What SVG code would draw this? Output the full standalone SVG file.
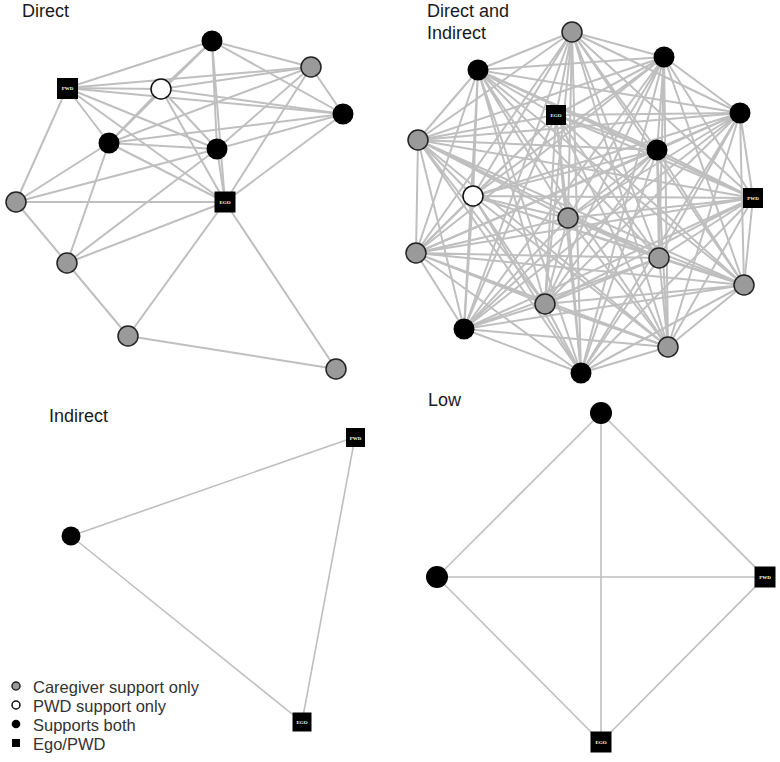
<svg xmlns="http://www.w3.org/2000/svg" width="780" height="762" viewBox="0 0 780 762">
<style>
.bg{fill:#fff}
.e{stroke:#bfbfbf;stroke-width:2;fill:none;stroke-linecap:round}
.e2{stroke:#bfbfbf;stroke-width:1.6;fill:none}
.gray{fill:#9a9a9a;stroke:#222;stroke-width:1.5}
.white{fill:#fff;stroke:#111;stroke-width:1.5}
.black{fill:#000}
.sq{fill:#000}
.sqt{fill:#fff;font-family:"Liberation Serif",serif;font-size:5px;font-weight:bold;text-anchor:middle}
.title{font-family:"Liberation Sans",Arial,sans-serif;font-size:18px;fill:#1a1a1a}
.leg{font-family:"Liberation Sans",Arial,sans-serif;font-size:16.5px;fill:#333}
</style>
<rect class="bg" x="0" y="0" width="780" height="762"/>

<!-- Titles -->
<text class="title" x="22" y="17">Direct</text>
<text class="title" x="427" y="17">Direct and</text>
<text class="title" x="427" y="39">Indirect</text>
<text class="title" x="49" y="422">Indirect</text>
<text class="title" x="428" y="406">Low</text>

<!-- Connectors -->
<g id="connectors">
  <!-- Direct panel -->
  <g id="edges-direct" class="e">
    <line x1="67" y1="88" x2="212" y2="41"/>
    <line x1="67" y1="88" x2="311" y2="67"/>
    <line x1="67" y1="88" x2="161" y2="89"/>
    <line x1="67" y1="88" x2="343" y2="114"/>
    <line x1="67" y1="88" x2="109" y2="143"/>
    <line x1="67" y1="88" x2="217" y2="149"/>
    <line x1="67" y1="88" x2="225" y2="202"/>
    <line x1="67" y1="88" x2="16" y2="202"/>
    <line x1="161" y1="89" x2="212" y2="41"/>
    <line x1="161" y1="89" x2="311" y2="67"/>
    <line x1="161" y1="89" x2="343" y2="114"/>
    <line x1="161" y1="89" x2="109" y2="143"/>
    <line x1="161" y1="89" x2="217" y2="149"/>
    <line x1="161" y1="89" x2="225" y2="202"/>
    <line x1="212" y1="41" x2="311" y2="67"/>
    <line x1="212" y1="41" x2="343" y2="114"/>
    <line x1="212" y1="41" x2="217" y2="149"/>
    <line x1="212" y1="41" x2="225" y2="202"/>
    <line x1="212" y1="41" x2="109" y2="143"/>
    <line x1="311" y1="67" x2="343" y2="114"/>
    <line x1="311" y1="67" x2="109" y2="143"/>
    <line x1="311" y1="67" x2="217" y2="149"/>
    <line x1="311" y1="67" x2="225" y2="202"/>
    <line x1="343" y1="114" x2="109" y2="143"/>
    <line x1="343" y1="114" x2="217" y2="149"/>
    <line x1="343" y1="114" x2="225" y2="202"/>
    <line x1="109" y1="143" x2="217" y2="149"/>
    <line x1="109" y1="143" x2="225" y2="202"/>
    <line x1="109" y1="143" x2="16" y2="202"/>
    <line x1="109" y1="143" x2="67" y2="263"/>
    <line x1="217" y1="149" x2="225" y2="202"/>
    <line x1="217" y1="149" x2="16" y2="202"/>
    <line x1="217" y1="149" x2="67" y2="263"/>
    <line x1="225" y1="202" x2="16" y2="202"/>
    <line x1="225" y1="202" x2="67" y2="263"/>
    <line x1="225" y1="202" x2="128" y2="336"/>
    <line x1="225" y1="202" x2="336" y2="369"/>
    <line x1="16" y1="202" x2="67" y2="263"/>
    <line x1="67" y1="263" x2="128" y2="336"/>
    <line x1="128" y1="336" x2="336" y2="369"/>
  </g>
  <!-- Direct and Indirect panel (all pairs) -->
  <g id="edges-both" class="e">
    <path d="M572 32L478 70M572 32L664 57M572 32L556 115M572 32L740 113M572 32L418 140M572 32L657 150M572 32L473 196M572 32L753 198M572 32L568 218M572 32L416 253M572 32L659 258M572 32L744 285M572 32L545 304M572 32L464 329M572 32L668 347M572 32L581 373"/>
    <path d="M478 70L664 57M478 70L556 115M478 70L740 113M478 70L418 140M478 70L657 150M478 70L473 196M478 70L753 198M478 70L568 218M478 70L416 253M478 70L659 258M478 70L744 285M478 70L545 304M478 70L464 329M478 70L668 347M478 70L581 373"/>
    <path d="M664 57L556 115M664 57L740 113M664 57L418 140M664 57L657 150M664 57L473 196M664 57L753 198M664 57L568 218M664 57L416 253M664 57L659 258M664 57L744 285M664 57L545 304M664 57L464 329M664 57L668 347M664 57L581 373"/>
    <path d="M556 115L740 113M556 115L418 140M556 115L657 150M556 115L473 196M556 115L753 198M556 115L568 218M556 115L416 253M556 115L659 258M556 115L744 285M556 115L545 304M556 115L464 329M556 115L668 347M556 115L581 373"/>
    <path d="M740 113L418 140M740 113L657 150M740 113L473 196M740 113L753 198M740 113L568 218M740 113L416 253M740 113L659 258M740 113L744 285M740 113L545 304M740 113L464 329M740 113L668 347M740 113L581 373"/>
    <path d="M418 140L657 150M418 140L473 196M418 140L753 198M418 140L568 218M418 140L416 253M418 140L659 258M418 140L744 285M418 140L545 304M418 140L464 329M418 140L668 347M418 140L581 373"/>
    <path d="M657 150L473 196M657 150L753 198M657 150L568 218M657 150L416 253M657 150L659 258M657 150L744 285M657 150L545 304M657 150L464 329M657 150L668 347M657 150L581 373"/>
    <path d="M473 196L753 198M473 196L568 218M473 196L416 253M473 196L659 258M473 196L744 285M473 196L545 304M473 196L464 329M473 196L668 347M473 196L581 373"/>
    <path d="M753 198L568 218M753 198L416 253M753 198L659 258M753 198L744 285M753 198L545 304M753 198L464 329M753 198L668 347M753 198L581 373"/>
    <path d="M568 218L416 253M568 218L659 258M568 218L744 285M568 218L545 304M568 218L464 329M568 218L668 347M568 218L581 373"/>
    <path d="M416 253L659 258M416 253L744 285M416 253L545 304M416 253L464 329M416 253L668 347M416 253L581 373"/>
    <path d="M659 258L744 285M659 258L545 304M659 258L464 329M659 258L668 347M659 258L581 373"/>
    <path d="M744 285L545 304M744 285L464 329M744 285L668 347M744 285L581 373"/>
    <path d="M545 304L464 329M545 304L668 347M545 304L581 373"/>
    <path d="M464 329L668 347M464 329L581 373"/>
    <path d="M668 347L581 373"/>
  </g>
  <!-- Indirect panel -->
  <g id="edges-indirect" class="e2">
    <line x1="71" y1="536" x2="355" y2="437"/>
    <line x1="71" y1="536" x2="302" y2="722"/>
    <line x1="355" y1="437" x2="302" y2="722"/>
  </g>
  <!-- Low panel -->
  <g id="edges-low" class="e2">
    <line x1="601" y1="413" x2="437" y2="577"/>
    <line x1="601" y1="413" x2="765" y2="577"/>
    <line x1="601" y1="413" x2="601" y2="742"/>
    <line x1="437" y1="577" x2="765" y2="577"/>
    <line x1="437" y1="577" x2="601" y2="742"/>
    <line x1="765" y1="577" x2="601" y2="742"/>
  </g>
</g>

<!-- Direct panel nodes -->
<g id="d-a"><circle class="black" cx="212" cy="41" r="10.5"/></g>
<g id="d-b"><circle class="gray" cx="311" cy="67" r="10"/></g>
<g id="d-pwd"><rect class="sq" x="57" y="78" width="21" height="21"/><text class="sqt" x="67.5" y="90">PWD</text></g>
<g id="d-w"><circle class="white" cx="161" cy="89" r="10"/></g>
<g id="d-c"><circle class="black" cx="343" cy="114" r="10.5"/></g>
<g id="d-d"><circle class="black" cx="109" cy="143" r="10.5"/></g>
<g id="d-e"><circle class="black" cx="217" cy="149" r="10.5"/></g>
<g id="d-g1"><circle class="gray" cx="16" cy="202" r="10"/></g>
<g id="d-ego"><rect class="sq" x="214.5" y="191.5" width="21" height="21"/><text class="sqt" x="225" y="204">EGO</text></g>
<g id="d-g2"><circle class="gray" cx="67" cy="263" r="10"/></g>
<g id="d-g3"><circle class="gray" cx="128" cy="336" r="10"/></g>
<g id="d-g4"><circle class="gray" cx="336" cy="369" r="10"/></g>

<!-- Direct and Indirect panel nodes -->
<g id="b-1"><circle class="gray" cx="572" cy="32" r="10"/></g>
<g id="b-2"><circle class="black" cx="478" cy="70" r="10.5"/></g>
<g id="b-3"><circle class="black" cx="664" cy="57" r="10.5"/></g>
<g id="b-ego"><rect class="sq" x="546" y="105" width="20" height="20"/><text class="sqt" x="556" y="117">EGO</text></g>
<g id="b-5"><circle class="black" cx="740" cy="113" r="10.5"/></g>
<g id="b-6"><circle class="gray" cx="418" cy="140" r="10"/></g>
<g id="b-7"><circle class="black" cx="657" cy="150" r="10.5"/></g>
<g id="b-8"><circle class="white" cx="473" cy="196" r="10"/></g>
<g id="b-pwd"><rect class="sq" x="743" y="188" width="20" height="20"/><text class="sqt" x="753" y="200">PWD</text></g>
<g id="b-10"><circle class="gray" cx="568" cy="218" r="10"/></g>
<g id="b-11"><circle class="gray" cx="416" cy="253" r="10"/></g>
<g id="b-12"><circle class="gray" cx="659" cy="258" r="10"/></g>
<g id="b-13"><circle class="gray" cx="744" cy="285" r="10"/></g>
<g id="b-14"><circle class="gray" cx="545" cy="304" r="10"/></g>
<g id="b-15"><circle class="black" cx="464" cy="329" r="10.5"/></g>
<g id="b-16"><circle class="gray" cx="668" cy="347" r="10"/></g>
<g id="b-17"><circle class="black" cx="581" cy="373" r="10.5"/></g>

<!-- Indirect panel nodes -->
<g id="i-a"><circle class="black" cx="71" cy="536" r="9.5"/></g>
<g id="i-pwd"><rect class="sq" x="346" y="428" width="19" height="19"/><text class="sqt" x="355.5" y="439.5">PWD</text></g>
<g id="i-ego"><rect class="sq" x="292.5" y="712.5" width="19" height="19"/><text class="sqt" x="302" y="724">EGO</text></g>

<!-- Low panel nodes -->
<g id="l-top"><circle class="black" cx="601" cy="413" r="11"/></g>
<g id="l-left"><circle class="black" cx="437" cy="577" r="11"/></g>
<g id="l-pwd"><rect class="sq" x="754.5" y="566.5" width="21" height="21"/><text class="sqt" x="765" y="579">PWD</text></g>
<g id="l-ego"><rect class="sq" x="590.5" y="731.5" width="21" height="21"/><text class="sqt" x="601" y="744">EGO</text></g>

<!-- Legend -->
<g id="legend">
  <circle class="gray" cx="16" cy="686" r="4"/>
  <text class="leg" x="33" y="693">Caregiver support only</text>
  <circle class="white" cx="16" cy="705" r="4"/>
  <text class="leg" x="33" y="712">PWD support only</text>
  <circle class="black" cx="16" cy="724" r="4.3"/>
  <text class="leg" x="33" y="731">Supports both</text>
  <rect class="sq" x="12" y="739" width="8" height="8"/>
  <text class="leg" x="33" y="750">Ego/PWD</text>
</g>
</svg>
